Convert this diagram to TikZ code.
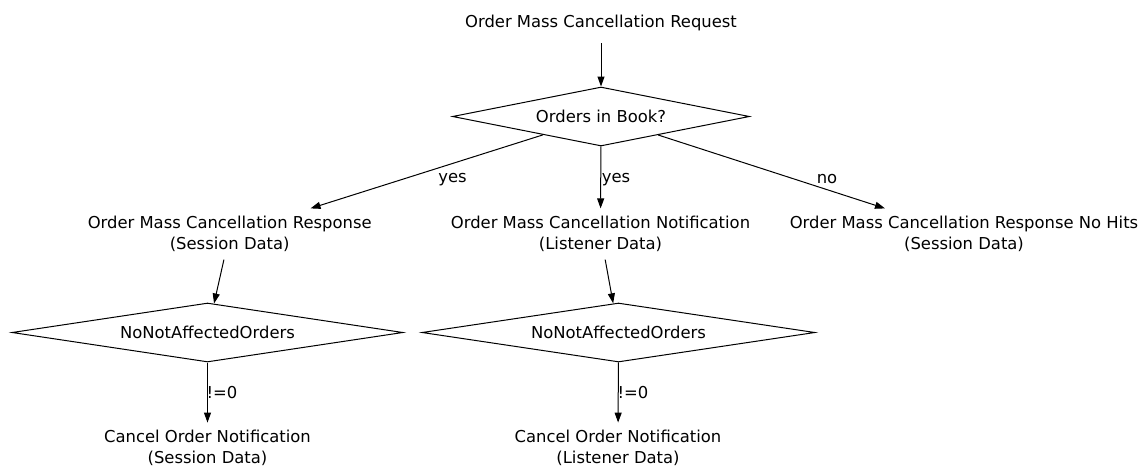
\documentclass[tikz,border=0pt]{standalone}
\usepackage{fontspec}
\setmainfont{DejaVu Sans}
\usetikzlibrary{shapes.geometric,arrows.meta}
\begin{document}
\begin{tikzpicture}[x=0.75pt,y=-0.75pt,
  every node/.style={font=\fontsize{12.3}{15.75}\selectfont},
  txt/.style={inner sep=0pt, minimum height=35pt, align=center},
  dec/.style={draw, diamond, inner sep=0pt, shape aspect=6.6, line width=0.75pt},
  lbl/.style={inner sep=0pt},
  arr/.style={-{Triangle[length=7.5pt,width=5.25pt]}, line width=0.75pt}]
\useasboundingbox (0,0) rectangle (1141,465);
\node[txt, minimum height=30pt] (req) at (601,23) {Order Mass Cancellation Request};
\node[dec, minimum width=222.75pt, minimum height=44.25pt] (d1) at (601,116.5) {Orders in Book?};
\node[txt, minimum height=38pt] (n1) at (229.7,234) {Order Mass Cancellation Response\\(Session Data)};
\node[txt, minimum height=38pt] (n2) at (600.5,234) {Order Mass Cancellation Notification\\(Listener Data)};
\node[txt, minimum height=38pt] (n3) at (964,234) {Order Mass Cancellation Response No Hits\\(Session Data)};
\node[dec, minimum width=293.25pt, minimum height=44.25pt] (d2) at (207.5,332.5) {NoNotAffectedOrders};
\node[dec, minimum width=294.75pt, minimum height=44.25pt] (d3) at (618.5,332.5) {NoNotAffectedOrders};
\node[txt, minimum height=37pt] (c1) at (207.5,447.5) {Cancel Order Notification\\(Session Data)};
\node[txt, minimum height=37pt] (c2) at (618,447.5) {Cancel Order Notification\\(Listener Data)};

\draw[arr] (req) -- (d1);
\draw[arr] (d1) -- (n1);
\draw[arr] (d1) -- (n2);
\draw[arr] (d1) -- (n3);
\draw[arr] (n1) -- (d2);
\draw[arr] (n2) -- (d3);
\draw[arr] (d2) -- (c1);
\draw[arr] (d3) -- (c2);

\node[lbl] (l1) at (452.5,180) {yes};
\node[lbl] (l2) at (616,180) {yes};
\node[lbl] (l3) at (827,179) {no};
\node[lbl] (l4) at (222,393) {!=0};
\node[lbl] (l5) at (633,393) {!=0};
\end{tikzpicture}
\end{document}
